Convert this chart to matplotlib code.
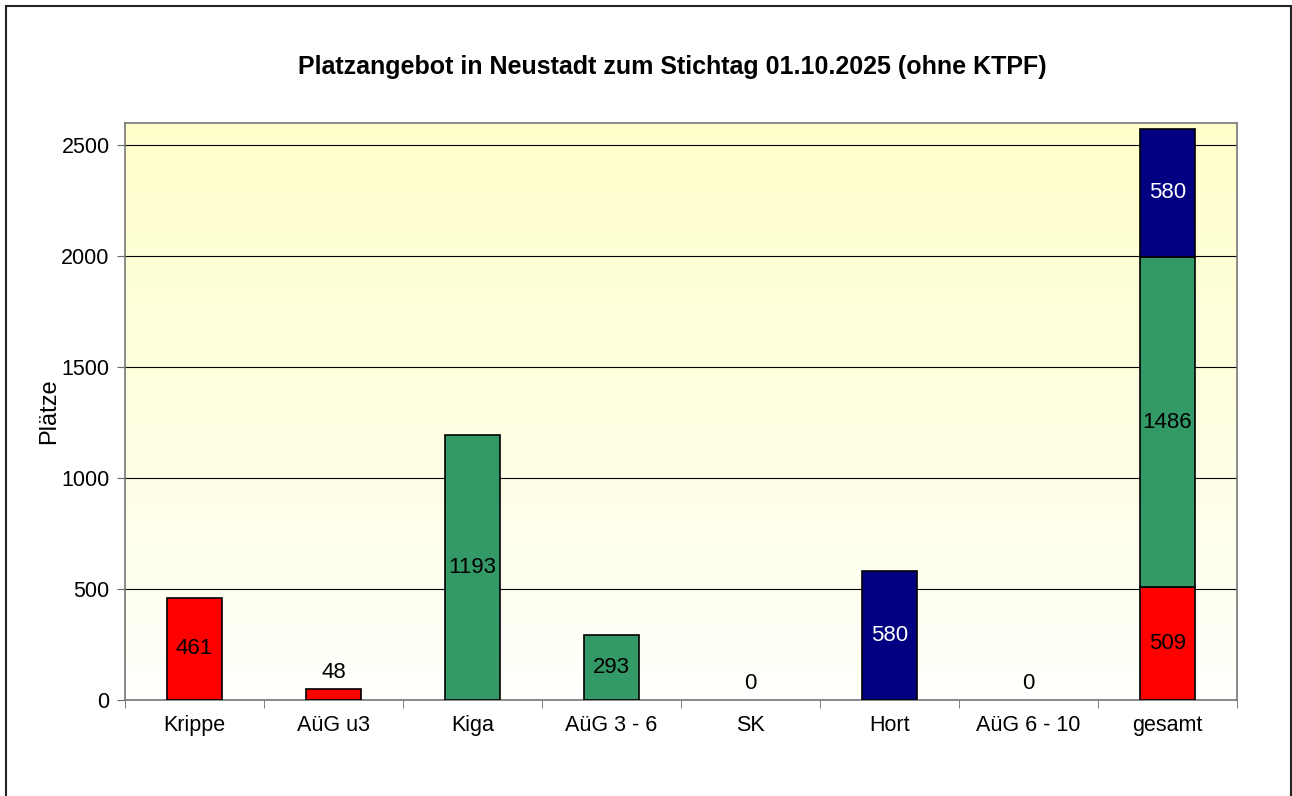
import matplotlib
matplotlib.use('Agg')
import matplotlib.pyplot as plt
import numpy as np
from matplotlib.patches import Rectangle

plt.rcParams['font.family'] = ['Liberation Sans', 'DejaVu Sans']

# Daten
categories = ['Krippe', 'AüG u3', 'Kiga', 'AüG 3 - 6', 'SK', 'Hort', 'AüG 6 - 10', 'gesamt']
einzel_werte = [461, 48, 1193, 293, 0, 580, 0]
einzel_farben = ['#FF0000', '#FF0000', '#339966', '#339966', '#339966', '#000080', '#000080']
gesamt_teile = [509, 1486, 580]
gesamt_farben = ['#FF0000', '#339966', '#000080']
y_ticks = [0, 500, 1000, 1500, 2000, 2500]

fig = plt.figure(figsize=(12.92, 7.96), dpi=100)
fig.patch.set_facecolor('white')
fig.add_artist(Rectangle((6 / 1292, -0.01), 1285 / 1292, 1 - 6 / 796 + 0.01,
                         transform=fig.transFigure, fill=False, edgecolor='#222222', lw=1.5))

ax = fig.add_axes([125 / 1292, 1 - 700 / 796, (1237 - 125) / 1292, (700 - 123) / 796])

# Hintergrund-Verlauf (gelb oben -> weiss unten)
grad = np.linspace(0, 1, 256).reshape(-1, 1)
top = np.array([1.0, 1.0, 0.8])
bottom = np.array([1.0, 1.0, 1.0])
img = bottom + (top - bottom) * grad[:, :, None] ** 0.8
ax.imshow(img, extent=[0, 1, 0, 1], transform=ax.transAxes, aspect='auto',
          origin='lower', zorder=0)

ax.set_xlim(-0.5, len(categories) - 0.5)
ax.set_ylim(0, 2600)
ax.set_yticks(y_ticks)
ax.yaxis.grid(True, color='black', lw=0.8)
ax.set_axisbelow(True)

fs = 16
breite = 0.4
x = np.arange(len(categories))
for i, (v, c) in enumerate(zip(einzel_werte, einzel_farben)):
    if v > 0:
        ax.bar(x[i], v, width=breite, color=c, edgecolor='black', lw=1.2, zorder=3)
    txtcol = 'white' if c == '#000080' else 'black'
    if v > 150:
        ax.text(x[i], v / 2, str(v), ha='center', va='center', fontsize=fs, color=txtcol, zorder=4)
    else:
        ax.text(x[i], v + 75, str(v), ha='center', va='center', fontsize=fs, color='black', zorder=4)

unten = 0
for v, c in zip(gesamt_teile, gesamt_farben):
    ax.bar(x[-1], v, bottom=unten, width=breite, color=c, edgecolor='black', lw=1.2, zorder=3)
    txtcol = 'white' if c == '#000080' else 'black'
    ax.text(x[-1], unten + v / 2, str(v), ha='center', va='center', fontsize=fs, color=txtcol, zorder=4)
    unten += v

ax.set_xticks(x)
ax.set_xticklabels(categories, fontsize=15.5)
ax.set_xticks(np.arange(-0.5, len(categories)), minor=True)
ax.tick_params(axis='x', which='major', length=0, pad=11)
ax.tick_params(axis='x', which='minor', length=6, color='#666666', direction='out')
ax.tick_params(axis='y', length=6, color='#666666', labelsize=15.5, pad=5)

for s in ax.spines.values():
    s.set_color('#777777')
    s.set_linewidth(1.2)

ax.set_ylabel('Plätze', fontsize=17)
ax.yaxis.set_label_coords((60 - 125) / 1112, 0.5)
fig.text(672 / 1292, 1 - 67 / 796, 'Platzangebot in Neustadt zum Stichtag 01.10.2025 (ohne KTPF)',
         ha='center', va='center', fontsize=18, fontweight='bold')

plt.savefig('out.png', dpi=100)
plt.close()
